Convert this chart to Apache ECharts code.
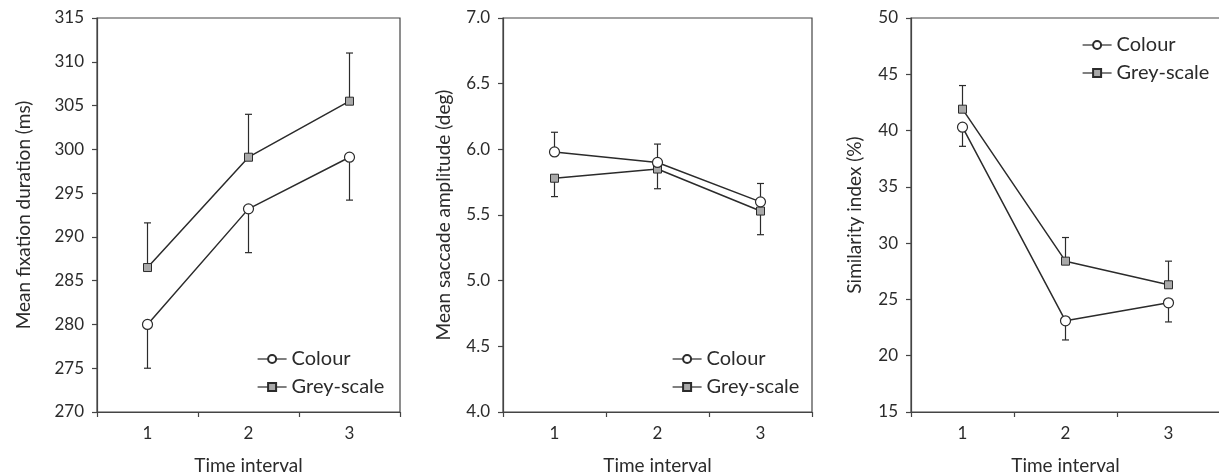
<!DOCTYPE html>
<html lang="en">
<head>
    <meta charset="UTF-8">
    <title>Time interval</title>
    <script src="https://cdn.jsdelivr.net/npm/echarts@6/dist/echarts.min.js"></script>
</head>
<style>
    *{
        margin: 0;
        padding: 0;
    }
    html , body{
        width: 100%;
        height: 100%;
        overflow: hidden;
        background: #fff;
    }
    .container{
        width: 1219px;
        height: 474px;
    }
</style>
<body>
<div class="container"></div>
<script>
    // data
    let intervals = ['1', '2', '3'];

    let fixColour = [280.0, 293.2, 299.1];
    let fixColourSE = [5.0, 5.0, 4.9];
    let fixGrey = [286.5, 299.1, 305.5];
    let fixGreySE = [5.1, 4.9, 5.5];

    let sacColour = [5.98, 5.90, 5.60];
    let sacColourSE = [0.15, 0.14, 0.14];
    let sacGrey = [5.78, 5.85, 5.53];
    let sacGreySE = [0.14, 0.15, 0.18];

    let simColour = [40.3, 23.1, 24.7];
    let simColourSE = [1.7, 1.7, 1.7];
    let simGrey = [41.9, 28.4, 26.3];
    let simGreySE = [2.1, 2.1, 2.1];

    let font = 'Lato, "Open Sans", sans-serif';
    let ink = '#2b2b2b';

    let container = document.querySelector('.container');
    let mycharts = echarts.init(container);

    // one panel per entry; dir = +1 error bar goes up, -1 goes down
    let panels = [
        {name: 'Mean fixation duration (ms)', min: 270, max: 315, interval: 5, dec: 0, nameGap: 64,
            colour: fixColour, colourSE: fixColourSE, colourDir: -1,
            grey: fixGrey, greySE: fixGreySE, greyDir: 1,
            grid: {left: 97, width: 303}, legend: {left: 252, top: 344}},
        {name: 'Mean saccade amplitude (deg)', min: 4, max: 7, interval: 0.5, dec: 1, nameGap: 50,
            colour: sacColour, colourSE: sacColourSE, colourDir: 1,
            grey: sacGrey, greySE: sacGreySE, greyDir: -1,
            grid: {left: 503, width: 309}, legend: {left: 667, top: 344}},
        {name: 'Similarity index (%)', min: 15, max: 50, interval: 5, dec: 0, nameGap: 47,
            colour: simColour, colourSE: simColourSE, colourDir: -1,
            grey: simGrey, greySE: simGreySE, greyDir: 1,
            grid: {left: 911, width: 309}, legend: {left: 1077, top: 30}}
    ];

    function errorBars(means, se, dir) {
        return means.map((m, i) => [i, m, m + dir * se[i]]);
    }

    function renderError(params, api) {
        let p0 = api.coord([api.value(0), api.value(1)]);
        let p1 = api.coord([api.value(0), api.value(2)]);
        let cap = 3.5;
        let style = {stroke: ink, lineWidth: 1.2};
        return {
            type: 'group',
            children: [
                {type: 'line', shape: {x1: p0[0], y1: p0[1], x2: p1[0], y2: p1[1]}, style},
                {type: 'line', shape: {x1: p1[0] - cap, y1: p1[1], x2: p1[0] + cap, y2: p1[1]}, style}
            ]
        };
    }

    let grid = [], xAxis = [], yAxis = [], series = [], legend = [];

    panels.forEach((p, k) => {
        grid.push({
            left: p.grid.left, width: p.grid.width, top: 18, height: 394,
            outerBoundsMode: 'none', containLabel: false,
            show: true, borderColor: '#444', borderWidth: 1.2, backgroundColor: 'transparent'
        });
        xAxis.push({
            type: 'category', gridIndex: k, data: intervals, boundaryGap: true,
            name: 'Time interval', nameLocation: 'middle', nameGap: 44,
            nameTextStyle: {fontFamily: font, fontSize: 19, color: ink},
            axisLine: {lineStyle: {color: '#444', width: 1.2}},
            axisTick: {show: true, length: 5, lineStyle: {color: '#444', width: 1.2}},
            axisLabel: {fontFamily: font, fontSize: 17, color: ink, margin: 13},
            splitLine: {show: false}
        });
        yAxis.push({
            type: 'value', gridIndex: k, min: p.min, max: p.max, interval: p.interval,
            name: p.name, nameLocation: 'middle', nameGap: p.nameGap,
            nameTextStyle: {fontFamily: font, fontSize: 19, color: ink},
            axisLine: {show: true, lineStyle: {color: '#444', width: 1.2}},
            axisTick: {show: true, length: 5, lineStyle: {color: '#444', width: 1.2}},
            axisLabel: {
                fontFamily: font, fontSize: 17, color: ink, margin: 13,
                formatter: v => v.toFixed(p.dec)
            },
            splitLine: {show: false}
        });
        legend.push({
            orient: 'vertical', left: p.legend.left, top: p.legend.top,
            itemWidth: 29, itemHeight: 10, itemGap: 8,
            textStyle: {fontFamily: font, fontSize: 20, color: ink},
            lineStyle: {width: 1.2},
            data: ['Colour', 'Grey-scale'],
            selectedMode: false
        });

        series.push({
            type: 'custom', xAxisIndex: k, yAxisIndex: k, z: 1,
            renderItem: renderError, data: errorBars(p.colour, p.colourSE, p.colourDir),
            silent: true
        });
        series.push({
            type: 'custom', xAxisIndex: k, yAxisIndex: k, z: 1,
            renderItem: renderError, data: errorBars(p.grey, p.greySE, p.greyDir),
            silent: true
        });
        series.push({
            name: 'Grey-scale', type: 'line', xAxisIndex: k, yAxisIndex: k, z: 3,
            data: p.grey, symbol: 'rect', symbolSize: 8,
            lineStyle: {color: ink, width: 1.5},
            itemStyle: {color: '#a9a9a9', borderColor: ink, borderWidth: 1},
            animation: false
        });
        series.push({
            name: 'Colour', type: 'line', xAxisIndex: k, yAxisIndex: k, z: 4,
            data: p.colour, symbol: 'circle', symbolSize: 10, showAllSymbol: true,
            lineStyle: {color: ink, width: 1.5},
            itemStyle: {color: '#fff', borderColor: ink, borderWidth: 1.2},
            animation: false
        });
    });

    let option = {
        backgroundColor: '#fff',
        animation: false,
        grid,
        xAxis,
        yAxis,
        legend,
        series
    };
    mycharts.setOption(option);
</script>

</body>
</html>
